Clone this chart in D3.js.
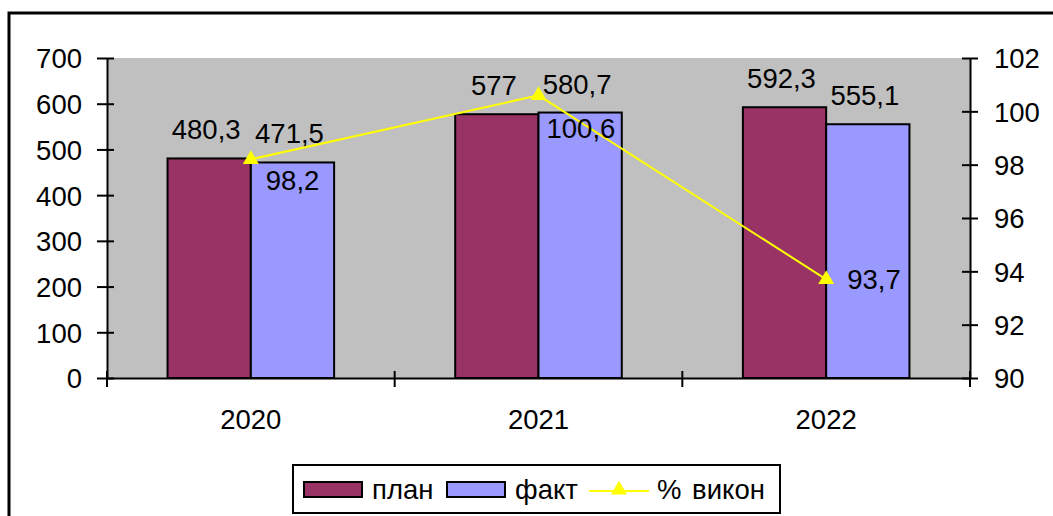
<!DOCTYPE html>
<html>
<head>
<meta charset="utf-8">
<script src="https://cdn.jsdelivr.net/npm/d3@7"></script>
<style>
  html, body { margin: 0; padding: 0; background: #fff; }
  svg { display: block; font-family: "Liberation Sans", Arial, sans-serif; }
  text { fill: #000; }
</style>
</head>
<body>
<div id="chart"></div>
<script>
(function () {
  // Data
  const years = ["2020", "2021", "2022"];
  const plan = [480.3, 577, 592.3];
  const fakt = [471.5, 580.7, 555.1];
  const pct = [98.2, 100.6, 93.7];
  const leftTicks = [0, 100, 200, 300, 400, 500, 600, 700];
  const rightTicks = [90, 92, 94, 96, 98, 100, 102];
  const seriesNames = ["план", "факт", "% викон"];

  const PLAN_COLOR = "#993366";
  const FAKT_COLOR = "#9999FF";
  const LINE_COLOR = "#FFFF00";
  const FONT = 27.5;

  const width = 1053, height = 516;
  const plot = { left: 107, right: 970, top: 58, bottom: 378 };

  const svg = d3.select("#chart").append("svg")
    .attr("width", width)
    .attr("height", height);

  // outer frame (only left + top visible)
  svg.append("path")
    .attr("d", `M9,${height} V13 H${width}`)
    .attr("fill", "none")
    .attr("stroke", "#000")
    .attr("stroke-width", 3);

  // plot background
  svg.append("rect")
    .attr("x", plot.left)
    .attr("y", plot.top)
    .attr("width", plot.right - plot.left)
    .attr("height", plot.bottom - plot.top)
    .attr("fill", "#C0C0C0");

  const x = d3.scaleBand().domain(years).range([plot.left, plot.right]).padding(0);
  const x1 = d3.scaleBand().domain(["plan", "fakt"]).range([0, x.bandwidth()])
    .paddingInner(0).paddingOuter(0.727);
  const yL = d3.scaleLinear().domain([0, 700]).range([plot.bottom, plot.top]);
  const yR = d3.scaleLinear().domain([90, 102]).range([plot.bottom, plot.top]);

  const rows = years.map((yr, i) => ({ year: yr, plan: plan[i], fakt: fakt[i], pct: pct[i] }));

  // bars
  const groups = svg.append("g").selectAll("g")
    .data(rows)
    .join("g")
    .attr("transform", d => `translate(${x(d.year)},0)`);

  groups.selectAll("rect")
    .data(d => [{ key: "plan", v: d.plan }, { key: "fakt", v: d.fakt }])
    .join("rect")
    .attr("x", d => x1(d.key))
    .attr("y", d => yL(d.v))
    .attr("width", x1.bandwidth())
    .attr("height", d => yL(0) - yL(d.v))
    .attr("fill", d => d.key === "plan" ? PLAN_COLOR : FAKT_COLOR)
    .attr("stroke", "#000")
    .attr("stroke-width", 2);

  // bar labels
  groups.selectAll("text")
    .data(d => [{ key: "plan", v: d.plan }, { key: "fakt", v: d.fakt }])
    .join("text")
    .attr("x", d => x1(d.key) + x1.bandwidth() / 2 - 3)
    .attr("y", d => yL(d.v) - 19)
    .attr("text-anchor", "middle")
    .style("font-size", FONT + "px")
    .text(d => String(d.v).replace(".", ","));

  // left axis
  const axL = svg.append("g")
    .attr("transform", `translate(${plot.left},0)`)
    .call(d3.axisLeft(yL).tickValues(leftTicks).tickSize(0).tickPadding(25).tickFormat(d3.format("d")));
  axL.select(".domain").attr("stroke", "#000").attr("stroke-width", 2);
  axL.selectAll(".tick line").attr("x1", -10).attr("x2", 7).attr("stroke", "#000").attr("stroke-width", 2);
  axL.selectAll(".tick text").style("font-size", FONT + "px").style("font-family", "inherit").attr("dy", "0.36em");

  // right axis
  const axR = svg.append("g")
    .attr("transform", `translate(${plot.right},0)`)
    .call(d3.axisRight(yR).tickValues(rightTicks).tickSize(0).tickPadding(24).tickFormat(d3.format("d")));
  axR.select(".domain").attr("stroke", "#000").attr("stroke-width", 2);
  axR.selectAll(".tick line").attr("x1", -8).attr("x2", 8).attr("stroke", "#000").attr("stroke-width", 2);
  axR.selectAll(".tick text").style("font-size", FONT + "px").style("font-family", "inherit").attr("dy", "0.36em");

  // bottom axis
  const axB = svg.append("g")
    .attr("transform", `translate(0,${plot.bottom})`)
    .call(d3.axisBottom(x).tickSize(0).tickPadding(31));
  axB.select(".domain").attr("stroke", "#000").attr("stroke-width", 2);
  axB.selectAll(".tick text").style("font-size", FONT + "px").style("font-family", "inherit");
  const bounds = years.map(d => x(d)).concat([x.range()[1]]);
  axB.selectAll("line.bound")
    .data(bounds)
    .join("line")
    .attr("class", "bound")
    .attr("x1", d => d).attr("x2", d => d)
    .attr("y1", -7).attr("y2", 9)
    .attr("stroke", "#000")
    .attr("stroke-width", 2);

  // % line
  const px = d => x(d.year) + x.bandwidth() / 2;
  svg.append("path")
    .datum(rows)
    .attr("d", d3.line().x(px).y(d => yR(d.pct)))
    .attr("fill", "none")
    .attr("stroke", LINE_COLOR)
    .attr("stroke-width", 2);

  const tri = d3.symbol().type(d3.symbolTriangle).size(110);
  svg.append("g").selectAll("path")
    .data(rows)
    .join("path")
    .attr("d", tri)
    .attr("transform", d => `translate(${px(d)},${yR(d.pct)})`)
    .attr("fill", LINE_COLOR);

  // % labels (manually placed in original)
  const pctLabelOffset = [[15, 31], [8, 43], [21, 10]];
  svg.append("g").selectAll("text")
    .data(rows)
    .join("text")
    .attr("x", (d, i) => px(d) + pctLabelOffset[i][0])
    .attr("y", (d, i) => yR(d.pct) + pctLabelOffset[i][1])
    .style("font-size", FONT + "px")
    .text(d => String(d.pct).replace(".", ","));

  // legend
  const lg = svg.append("g");
  lg.append("rect")
    .attr("x", 293).attr("y", 465)
    .attr("width", 487).attr("height", 48)
    .attr("fill", "#fff")
    .attr("stroke", "#000")
    .attr("stroke-width", 2);

  const swatches = [
    { name: seriesNames[0], color: PLAN_COLOR, sx: 304, tx: 372 },
    { name: seriesNames[1], color: FAKT_COLOR, sx: 447, tx: 515 }
  ];
  swatches.forEach(s => {
    lg.append("rect")
      .attr("x", s.sx).attr("y", 482)
      .attr("width", 58).attr("height", 15)
      .attr("fill", s.color)
      .attr("stroke", "#000")
      .attr("stroke-width", 2);
    lg.append("text")
      .attr("x", s.tx).attr("y", 499)
      .style("font-size", FONT + "px")
      .text(s.name);
  });
  lg.append("line")
    .attr("x1", 589).attr("x2", 649)
    .attr("y1", 491).attr("y2", 491)
    .attr("stroke", LINE_COLOR)
    .attr("stroke-width", 2);
  lg.append("path")
    .attr("d", tri)
    .attr("transform", "translate(619,490)")
    .attr("fill", LINE_COLOR);
  lg.append("text")
    .attr("x", 657).attr("y", 499)
    .style("font-size", FONT + "px")
    .style("word-spacing", "3px")
    .text(seriesNames[2]);
})();
</script>
</body>
</html>
